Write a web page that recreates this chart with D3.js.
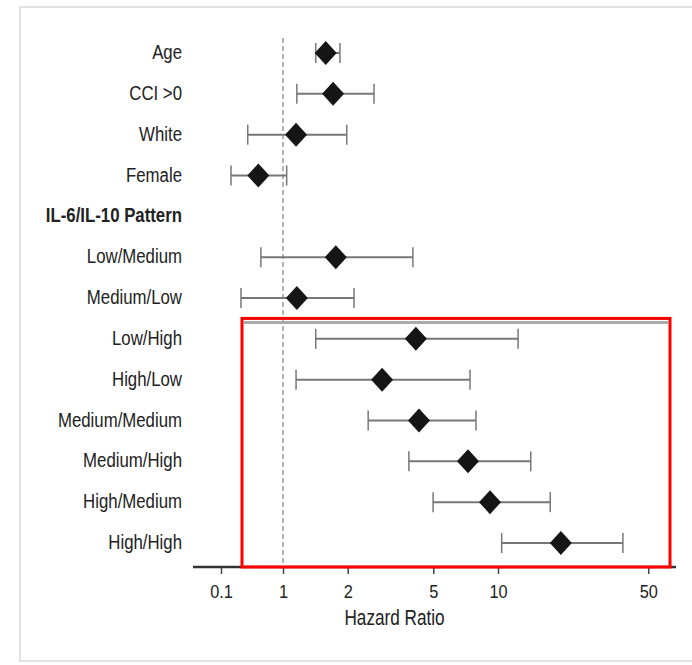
<!DOCTYPE html>
<html>
<head>
<meta charset="utf-8">
<script src="https://cdn.jsdelivr.net/npm/d3@7"></script>
<style>
  body { margin: 0; background: #fff; overflow: hidden; }
  text { font-family: "Liberation Sans", Arial, sans-serif; fill: #222; }
</style>
</head>
<body>
<div id="chart"></div>
<script>
// rows of the forest plot, top to bottom (null = header row)
var labels = ["Age", "CCI >0", "White", "Female", "IL-6/IL-10 Pattern",
    "Low/Medium", "Medium/Low", "Low/High", "High/Low", "Medium/Medium",
    "Medium/High", "High/Medium", "High/High"];
var hr    = [1.58, 1.71, 1.15, 0.40, null, 1.76, 1.16, 4.15, 2.89, 4.29, 7.25, 9.18, 19.6];
var lower = [1.42, 1.16, 0.27, 0.145, null, 0.44, 0.21, 1.42, 1.15, 2.49, 3.85, 4.99, 10.4];
var upper = [1.84, 2.65, 1.98, 1.04, null, 4.02, 2.14, 12.4, 7.41, 7.9, 14.2, 17.5, 38.1];
var ticks = [0.1, 1, 2, 5, 10, 50];
var boxed = ["Low/High", "High/High"];

var squeeze = 0.8; // narrow typeface look

function init() {
    var w = 692, h = 665;

    var svg = d3.select("#chart").append("svg")
        .attr("width", w)
        .attr("height", h)
        .style("display", "block");

    // light frame of the original figure (open on the right)
    svg.append("path")
        .attr("d", "M" + w + ",7H20V661H" + w)
        .attr("fill", "none")
        .attr("stroke", "#e2e2e2")
        .attr("stroke-width", 2);

    // broken log axis: 0.1..1 squeezed, 1..50 regular
    var x = d3.scaleLog()
        .domain([0.1, 1, 10])
        .range([221, 283, 498]);

    var y = d3.scalePoint()
        .domain(labels)
        .range([53, 543]);

    var axisY = 567;

    // reference line at HR = 1
    svg.append("line")
        .attr("x1", x(1)).attr("x2", x(1))
        .attr("y1", 38).attr("y2", axisY)
        .attr("stroke", "#666")
        .attr("stroke-width", 1)
        .attr("stroke-dasharray", "5,3");

    // row labels
    svg.selectAll("text.lab")
        .data(labels)
        .enter()
        .append("text")
        .attr("class", "lab")
        .attr("transform", function(d) { return "translate(182," + y(d) + ") scale(" + squeeze + ",1)"; })
        .attr("dy", "0.29em")
        .attr("text-anchor", "end")
        .style("font-size", "21px")
        .style("font-weight", function(d, i) { return hr[i] == null ? "bold" : "normal"; })
        .text(function(d) { return d; });

    var rows = labels.map(function(d, i) {
        return {label: d, hr: hr[i], lo: lower[i], hi: upper[i]};
    }).filter(function(d) { return d.hr != null; });

    var g = svg.selectAll("g.row")
        .data(rows)
        .enter()
        .append("g")
        .attr("class", "row")
        .attr("transform", function(d) { return "translate(0," + y(d.label) + ")"; });

    // confidence interval
    g.append("line")
        .attr("x1", function(d) { return x(d.lo); })
        .attr("x2", function(d) { return x(d.hi); })
        .attr("stroke", "#777")
        .attr("stroke-width", 2);
    g.append("line")
        .attr("x1", function(d) { return x(d.lo); })
        .attr("x2", function(d) { return x(d.lo); })
        .attr("y1", -10).attr("y2", 10)
        .attr("stroke", "#777")
        .attr("stroke-width", 1.5);
    g.append("line")
        .attr("x1", function(d) { return x(d.hi); })
        .attr("x2", function(d) { return x(d.hi); })
        .attr("y1", -10).attr("y2", 10)
        .attr("stroke", "#777")
        .attr("stroke-width", 1.5);

    // point estimate
    g.append("path")
        .attr("d", "M0,-12L11,0L0,12L-11,0Z")
        .attr("transform", function(d) { return "translate(" + x(d.hr) + ",0)"; })
        .attr("fill", "#151515");

    // x axis
    var xAxis = d3.axisBottom(x)
        .tickValues(ticks)
        .tickSize(7)
        .tickFormat(d3.format("~g"));

    var ax = svg.append("g")
        .attr("transform", "translate(0," + axisY + ")")
        .call(xAxis);
    ax.select(".domain").remove();
    ax.append("line")
        .attr("x1", 193).attr("x2", 676)
        .attr("stroke", "#333")
        .attr("stroke-width", 2.5);
    ax.selectAll(".tick line").attr("stroke", "#444").attr("stroke-width", 1.5);
    ax.selectAll(".tick text")
        .attr("y", 0)
        .attr("dy", 0)
        .attr("transform", "translate(0,31) scale(0.86,1)")
        .style("font-size", "19px")
        .style("font-family", "'Liberation Sans', Arial, sans-serif")
        .attr("fill", "#222");

    svg.append("text")
        .attr("transform", "translate(" + ((x(2) + x(5)) / 2 + 4) + ",625) scale(0.78,1)")
        .attr("text-anchor", "middle")
        .style("font-size", "22px")
        .text("Hazard Ratio");

    // highlight box around the high-risk patterns
    var top = (y(labels[6]) + y(boxed[0])) / 2;
    svg.append("line")
        .attr("x1", 244).attr("x2", 668)
        .attr("y1", top + 4).attr("y2", top + 4)
        .attr("stroke", "#aaa")
        .attr("stroke-width", 3);
    svg.append("rect")
        .attr("x", 242)
        .attr("y", top)
        .attr("width", 428)
        .attr("height", axisY - top)
        .attr("fill", "none")
        .attr("stroke", "#f00")
        .attr("stroke-width", 3);
}

window.onload = init;
</script>
</body>
</html>
